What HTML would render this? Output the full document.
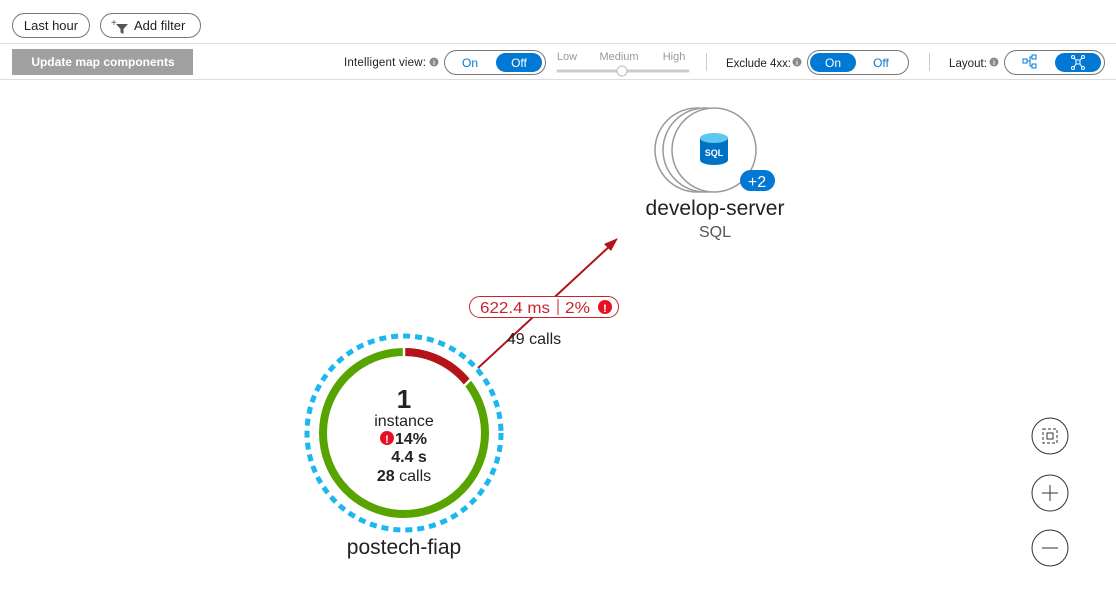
<!DOCTYPE html>
<html><head><meta charset="utf-8"><style>
body{margin:0;width:1116px;height:609px;overflow:hidden;background:#fff;font-family:"Liberation Sans",sans-serif;}
</style></head><body>
<svg width="1116" height="609" xmlns="http://www.w3.org/2000/svg" font-family="Liberation Sans, sans-serif">
<rect x="12.5" y="13.5" width="77" height="24" rx="12" fill="#fff" stroke="#777"/>
<text x="51" y="30" font-size="13" text-anchor="middle" fill="#222">Last hour</text>
<rect x="100.5" y="13.5" width="100" height="24" rx="12" fill="#fff" stroke="#777"/>
<text x="111" y="26" font-size="10" fill="#555">+</text>
<path d="M116 24 h12 l-4.5 5 v5 l-3 -1.5 v-3.5z" fill="#555"/>
<text x="134" y="30" font-size="13" fill="#222">Add filter</text>
<line x1="0" y1="43.5" x2="1116" y2="43.5" stroke="#ddd"/>
<line x1="0" y1="79.5" x2="1116" y2="79.5" stroke="#ddd"/>
<rect x="12" y="49" width="181" height="26" fill="#a0a0a0"/>
<text x="103" y="66" font-size="12" font-weight="bold" fill="#fff" text-anchor="middle">Update map components</text>
<text x="344" y="66" font-size="11.5" fill="#222" textLength="82">Intelligent view:</text>
<circle cx="434" cy="62" r="4.5" fill="#888"/><text x="434" y="65" font-size="7" fill="#fff" text-anchor="middle" font-weight="bold">i</text>
<rect x="444.5" y="50.5" width="101" height="24" rx="12" fill="#fff" stroke="#777"/>
<text x="470" y="67" font-size="12" fill="#0078d4" text-anchor="middle">On</text>
<rect x="496" y="53" width="46" height="19" rx="9.5" fill="#0078d4"/>
<text x="519" y="67" font-size="12" fill="#fff" text-anchor="middle">Off</text>
<text x="567" y="60" font-size="11" fill="#999" text-anchor="middle">Low</text>
<text x="619" y="60" font-size="11" fill="#999" text-anchor="middle">Medium</text>
<text x="674" y="60" font-size="11" fill="#999" text-anchor="middle">High</text>
<line x1="558" y1="71" x2="688" y2="71" stroke="#ccc" stroke-width="3" stroke-linecap="round"/>
<circle cx="622" cy="71" r="5" fill="#fff" stroke="#bbb"/>
<line x1="706.5" y1="53" x2="706.5" y2="71" stroke="#ccc"/>
<text x="726" y="67" font-size="11.5" fill="#222" textLength="65">Exclude 4xx:</text>
<circle cx="797" cy="62" r="4.5" fill="#888"/><text x="797" y="65" font-size="7" fill="#fff" text-anchor="middle" font-weight="bold">i</text>
<rect x="807.5" y="50.5" width="101" height="24" rx="12" fill="#fff" stroke="#777"/>
<rect x="810" y="53" width="46" height="19" rx="9.5" fill="#0078d4"/>
<text x="833" y="67" font-size="12" fill="#fff" text-anchor="middle">On</text>
<text x="881" y="67" font-size="12" fill="#0078d4" text-anchor="middle">Off</text>
<line x1="929.5" y1="53" x2="929.5" y2="71" stroke="#ccc"/>
<text x="949" y="67" font-size="11.5" fill="#222" textLength="38">Layout:</text>
<circle cx="994" cy="62" r="4.5" fill="#888"/><text x="994" y="65" font-size="7" fill="#fff" text-anchor="middle" font-weight="bold">i</text>
<rect x="1004.5" y="50.5" width="100" height="24" rx="12" fill="#fff" stroke="#777"/>
<g stroke="#0078d4" fill="none" stroke-width="1"><rect x="1023" y="59" width="4" height="4"/><rect x="1032" y="55" width="4" height="4"/><rect x="1032" y="64" width="4" height="4"/><path d="M1027 61h3v-4h2M1030 61v5h2"/></g>
<rect x="1055" y="53" width="46" height="19" rx="9.5" fill="#0078d4"/>
<g stroke="#fff" fill="none"><circle cx="1073" cy="57" r="1.5"/><circle cx="1083" cy="57" r="1.5"/><circle cx="1073" cy="68" r="1.5"/><circle cx="1083" cy="68" r="1.5"/><rect x="1076" y="60" width="4" height="4"/><path d="M1074 58l2 2M1082 58l-2 2M1074 67l2-3M1082 67l-2-3"/></g>
<!-- edge -->
<line x1="478" y1="368" x2="612" y2="244" stroke="#b5121b" stroke-width="2"/>
<path d="M618 238 L604 244 L611 251 Z" fill="#b5121b"/>
<rect x="469.5" y="296.5" width="149" height="21" rx="10.5" fill="#fff" stroke="#c4262e"/>
<text x="480" y="313" font-size="16" fill="#c4262e" textLength="70" lengthAdjust="spacingAndGlyphs">622.4 ms</text>
<line x1="558" y1="299" x2="558" y2="315" stroke="#c4262e"/>
<text x="565" y="313" font-size="16" fill="#c4262e" textLength="25" lengthAdjust="spacingAndGlyphs">2%</text>
<circle cx="605" cy="307" r="7" fill="#e81123"/><text x="605" y="312" font-size="11" font-weight="bold" fill="#fff" text-anchor="middle">!</text>
<text x="534" y="344" font-size="16" fill="#222" text-anchor="middle">49 calls</text>
<!-- postech node -->
<circle cx="404" cy="433" r="97" fill="none" stroke="#1bb8ef" stroke-width="5" stroke-dasharray="7 5"/>
<circle cx="404" cy="433" r="81" fill="#fff" stroke="#57a300" stroke-width="8"/>
<path d="M404 352 A81 81 0 0 1 467 382" fill="none" stroke="#b5121b" stroke-width="8"/>
<line x1="404" y1="346" x2="404" y2="358" stroke="#fff" stroke-width="2.5"/>
<line x1="463" y1="387" x2="472" y2="378" stroke="#fff" stroke-width="2.5"/>
<text x="404" y="408" font-size="26" font-weight="bold" fill="#222" text-anchor="middle">1</text>
<text x="404" y="426" font-size="16" fill="#222" text-anchor="middle">instance</text>
<circle cx="387" cy="438" r="7" fill="#e81123"/><text x="387" y="443" font-size="11" font-weight="bold" fill="#fff" text-anchor="middle">!</text>
<text x="395" y="444" font-size="16" font-weight="bold" fill="#222">14%</text>
<text x="409" y="462" font-size="16" font-weight="bold" fill="#222" text-anchor="middle">4.4 s</text>
<text x="404" y="481" font-size="16" fill="#222" text-anchor="middle"><tspan font-weight="bold">28</tspan> calls</text>
<text x="404" y="554" font-size="21" fill="#222" text-anchor="middle">postech-fiap</text>
<!-- SQL node -->
<g fill="#fff" stroke="#999" stroke-width="1.5">
<circle cx="697" cy="150" r="42"/><circle cx="705" cy="150" r="42"/><circle cx="714" cy="150" r="42"/>
</g>
<path d="M700 138 v22 a14 5 0 0 0 28 0 v-22 z" fill="#0072c6"/>
<ellipse cx="714" cy="138" rx="14" ry="5" fill="#5ec8f0"/>
<text x="714" y="156" font-size="9" font-weight="bold" fill="#fff" text-anchor="middle">SQL</text>
<rect x="740" y="170" width="35" height="21" rx="10.5" fill="#0078d4"/>
<text x="757" y="187" font-size="16" fill="#fff" text-anchor="middle">+2</text>
<text x="715" y="215" font-size="21" fill="#222" text-anchor="middle">develop-server</text>
<text x="715" y="237" font-size="16" fill="#555" text-anchor="middle">SQL</text>
<g fill="#fff" stroke="#333" stroke-width="1">
<circle cx="1050" cy="436" r="18"/><circle cx="1050" cy="493" r="18"/><circle cx="1050" cy="548" r="18"/>
</g>
<g stroke="#333" fill="none" stroke-width="1">
<rect x="1043" y="429" width="14" height="14" stroke-dasharray="3 2"/><rect x="1047" y="433" width="6" height="6"/>
<path d="M1042 493h16M1050 485v16M1042 548h16"/>
</g>
</svg>
</body></html>
